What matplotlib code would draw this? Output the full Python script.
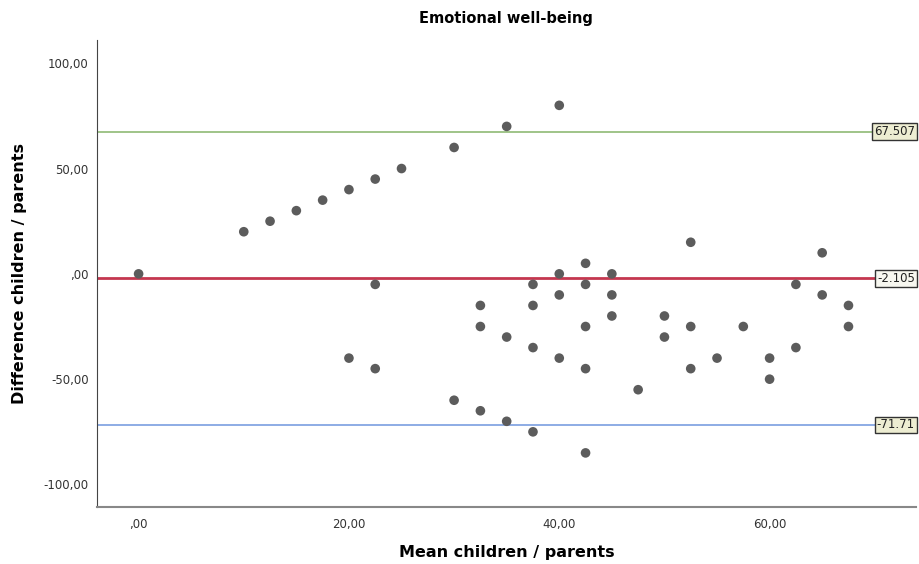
import numpy as np
import matplotlib.pyplot as plt
from matplotlib.ticker import FuncFormatter

# mean of children / parents scores and their difference
mean_vals = [0, 10, 12.5, 15, 17.5, 20, 22.5, 25, 30, 35, 40,
             20, 22.5, 22.5, 30, 32.5, 32.5, 32.5, 35, 35,
             37.5, 37.5, 37.5, 37.5, 40, 40, 40,
             42.5, 42.5, 42.5, 42.5, 42.5, 45, 45, 45, 47.5,
             50, 50, 52.5, 52.5, 52.5, 55, 57.5, 60, 60,
             62.5, 62.5, 65, 65, 67.5, 67.5]
diff_vals = [0, 20, 25, 30, 35, 40, 45, 50, 60, 70, 80,
             -40, -5, -45, -60, -15, -25, -65, -30, -70,
             -5, -15, -35, -75, 0, -10, -40,
             5, -5, -25, -45, -85, 0, -10, -20, -55,
             -20, -30, 15, -25, -45, -40, -25, -40, -50,
             -5, -35, 10, -10, -15, -25]

upper_loa = 67.507
mean_diff = -2.105
lower_loa = -71.71
ref_labels = ['67.507', '-2.105', '-71.71']

fig = plt.figure(figsize=(9.19, 5.64), dpi=100)
ax = fig.add_axes([0.1055, 0.101, 0.891, 0.828])

ax.scatter(mean_vals, diff_vals, s=48, color='#5c5c5c', edgecolors='none', zorder=3)

ax.axhline(upper_loa, color='#8fba74', lw=1.2, zorder=2)
ax.axhline(mean_diff, color='#c4374f', lw=2.0, zorder=2)
ax.axhline(lower_loa, color='#7a9ee0', lw=1.2, zorder=2)

box_fill = ['#ededd2', '#f7f7f0', '#ededd2']
for yv, lab, fc in zip([upper_loa, mean_diff, lower_loa], ref_labels, box_fill):
    ax.text(0.999, yv, lab, transform=ax.get_yaxis_transform(), ha='right', va='center',
            fontsize=8.5, color='#222222', zorder=4,
            bbox=dict(boxstyle='square,pad=0.15', fc=fc, ec='#333333', lw=1.0))

ax.set_xlim(-3.96, 73.9)
ax.set_ylim(-110.7, 111.0)
ax.set_xticks([0, 20, 40, 60])
ax.set_yticks([-100, -50, 0, 50, 100])

def comma_fmt(v, pos):
    s = f'{v:.2f}'.replace('.', ',')
    if s.startswith('0,'):
        s = s[1:]
    return s

ax.xaxis.set_major_formatter(FuncFormatter(comma_fmt))
ax.yaxis.set_major_formatter(FuncFormatter(comma_fmt))
ax.tick_params(axis='both', length=0, labelsize=8.5, colors='#333333')
ax.tick_params(axis='x', pad=8)
ax.tick_params(axis='y', pad=6)

ax.spines['top'].set_visible(False)
ax.spines['right'].set_visible(False)
ax.spines['left'].set_color('#444444')
ax.spines['bottom'].set_color('#888888')
ax.spines['bottom'].set_linewidth(1.5)

ax.set_title('Emotional well-being', fontsize=10.5, fontweight='bold', pad=12)
ax.set_xlabel('Mean children / parents', fontsize=11.5, fontweight='bold', labelpad=10)
ax.set_ylabel('Difference children / parents', fontsize=11.5, fontweight='bold', labelpad=12)

plt.savefig('out.png', dpi=100)
